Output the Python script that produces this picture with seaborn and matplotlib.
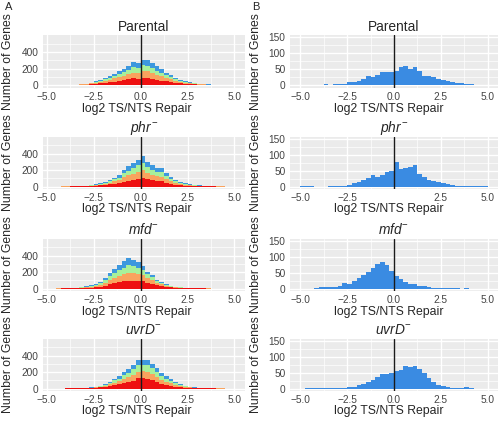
import numpy as np
import pandas as pd
import matplotlib
matplotlib.use('Agg')
import matplotlib.pyplot as plt
import seaborn as sns

# ---- data (counts) ----
strains = ['Parental', 'phr', 'mfd', 'uvrD']
titles = ['Parental', r'$phr^{-}$', r'$mfd^{-}$', r'$uvrD^{-}$']

# bins of 0.25 from -5 to 5 (both columns)
edges = np.linspace(-5.0, 5.0, 41)
centers = (edges[:-1] + edges[1:]) / 2

# panel A: stacked histograms
layers = ['Q4', 'Q3', 'Q2', 'Q1']          # top -> bottom in the stack
layer_colors = ['#3D98DE', '#A8F09A', '#F9A35E', '#EE1111']

parental_q1 = [0, 1, 1, 1, 2, 2, 3, 5, 7, 11, 16, 21, 27, 34, 42, 50, 60, 70, 80, 78,
               90, 85, 75, 63, 55, 45, 37, 28, 21, 16, 12, 9, 7, 5, 3, 3, 2, 1, 1, 0]
parental_q2 = [0, 0, 0, 1, 1, 1, 2, 3, 5, 9, 14, 19, 25, 32, 38, 46, 55, 62, 70, 66,
               82, 80, 70, 60, 50, 40, 32, 24, 17, 13, 10, 7, 5, 3, 2, 1, 1, 1, 0, 0]
parental_q3 = [0, 0, 0, 0, 0, 1, 1, 1, 2, 5, 9, 12, 18, 24, 30, 37, 45, 53, 63, 60,
               70, 72, 63, 53, 45, 35, 28, 21, 15, 11, 8, 5, 4, 3, 2, 1, 1, 0, 0, 0]
parental_q4 = [0, 0, 0, 0, 0, 0, 0, 1, 2, 3, 6, 10, 15, 20, 25, 32, 40, 50, 62, 58,
               63, 63, 57, 49, 40, 30, 23, 17, 12, 8, 5, 4, 2, 1, 1, 1, 0, 0, 0, 0]

phr_q1 = [1, 1, 1, 1, 1, 2, 3, 4, 5, 7, 10, 14, 19, 26, 33, 42, 60, 72, 80, 95,
          108, 88, 75, 66, 64, 46, 35, 25, 18, 13, 10, 7, 5, 4, 3, 2, 1, 1, 1, 1]
phr_q2 = [0, 0, 0, 1, 1, 1, 2, 2, 4, 6, 8, 11, 16, 22, 29, 36, 55, 65, 74, 84,
          92, 76, 67, 59, 58, 41, 31, 22, 16, 11, 8, 5, 4, 3, 2, 1, 1, 1, 0, 0]
phr_q3 = [0, 0, 0, 0, 0, 1, 1, 1, 2, 3, 5, 8, 12, 18, 24, 31, 48, 57, 66, 77,
          88, 71, 62, 55, 54, 38, 29, 20, 14, 10, 7, 5, 3, 2, 1, 1, 1, 0, 0, 0]
phr_q4 = [0, 0, 0, 0, 0, 0, 0, 1, 1, 2, 3, 5, 8, 14, 19, 26, 42, 51, 60, 69,
          82, 65, 56, 50, 49, 35, 25, 18, 12, 8, 5, 3, 2, 1, 1, 1, 0, 0, 0, 0]

mfd_q1 = [0, 1, 1, 2, 2, 3, 5, 7, 10, 13, 17, 25, 37, 52, 65, 78, 88, 97, 96, 95,
          88, 70, 58, 42, 30, 21, 15, 11, 8, 5, 4, 3, 2, 2, 1, 1, 1, 0, 0, 0]
mfd_q2 = [0, 0, 1, 1, 2, 2, 4, 5, 8, 11, 15, 23, 35, 50, 62, 75, 85, 94, 90, 84,
          75, 56, 44, 31, 21, 14, 10, 7, 4, 3, 2, 2, 1, 1, 1, 0, 0, 0, 0, 0]
mfd_q3 = [0, 0, 0, 0, 1, 1, 2, 4, 6, 9, 13, 20, 31, 46, 58, 71, 81, 90, 85, 76,
          62, 45, 34, 22, 15, 9, 6, 4, 3, 2, 1, 1, 1, 0, 0, 0, 0, 0, 0, 0]
mfd_q4 = [0, 0, 0, 0, 0, 1, 1, 2, 4, 7, 10, 17, 27, 42, 55, 66, 76, 84, 79, 65,
          50, 34, 24, 15, 9, 6, 4, 2, 1, 1, 1, 0, 0, 0, 0, 0, 0, 0, 0, 0]

uvrd_q1 = [0, 1, 1, 1, 2, 2, 3, 4, 5, 7, 10, 14, 20, 30, 40, 50, 65, 80, 95, 125,
           130, 120, 100, 80, 60, 46, 35, 24, 17, 11, 8, 6, 4, 3, 2, 2, 1, 1, 1, 0]
uvrd_q2 = [0, 0, 0, 0, 0, 1, 1, 1, 2, 4, 6, 10, 15, 23, 32, 38, 50, 60, 73, 80,
           80, 80, 72, 60, 46, 37, 28, 20, 14, 9, 6, 4, 2, 1, 1, 1, 1, 1, 0, 0]
uvrd_q3 = [0, 0, 0, 0, 0, 0, 0, 1, 1, 2, 4, 7, 12, 18, 27, 34, 44, 54, 67, 80,
           80, 80, 72, 58, 46, 37, 28, 20, 14, 9, 5, 3, 2, 1, 1, 0, 0, 0, 0, 0]
uvrd_q4 = [0, 0, 0, 0, 0, 0, 0, 0, 1, 1, 2, 4, 8, 14, 21, 28, 36, 46, 55, 60,
           60, 60, 56, 47, 38, 30, 24, 16, 10, 6, 3, 1, 1, 1, 0, 0, 0, 0, 0, 0]

stacked = {
    'Parental': [parental_q4, parental_q3, parental_q2, parental_q1],
    'phr': [phr_q4, phr_q3, phr_q2, phr_q1],
    'mfd': [mfd_q4, mfd_q3, mfd_q2, mfd_q1],
    'uvrD': [uvrd_q4, uvrd_q3, uvrd_q2, uvrd_q1],
}

# panel B: single histograms
b_counts = {
    'Parental': [0, 0, 0, 0, 1, 2, 1, 2, 3, 5, 10, 10, 12, 18, 30, 26, 32, 40, 40, 40,
                 45, 58, 60, 50, 58, 45, 30, 28, 25, 20, 15, 12, 10, 8, 7, 5, 2, 0, 0, 0],
    'phr': [3, 3, 2, 0, 0, 0, 1, 2, 2, 3, 5, 12, 15, 20, 28, 38, 30, 35, 45, 50,
            78, 55, 58, 62, 68, 40, 30, 22, 18, 15, 10, 7, 5, 3, 2, 1, 1, 1, 1, 2],
    'mfd': [0, 0, 0, 1, 4, 5, 6, 6, 7, 19, 14, 23, 32, 43, 53, 66, 77, 85, 74, 56,
            40, 30, 21, 16, 13, 7, 7, 5, 3, 3, 2, 2, 2, 1, 0, 1, 0, 0, 0, 0],
    'uvrD': [0, 1, 1, 1, 2, 2, 1, 1, 1, 2, 4, 6, 10, 15, 20, 28, 35, 45, 47, 50,
             55, 60, 72, 68, 72, 62, 48, 32, 22, 12, 8, 6, 3, 2, 1, 4, 1, 0, 0, 0],
}
b_color = '#3A8BE2'

xticks = [-5.0, -2.5, 0.0, 2.5, 5.0]
xticklabels = ['\u22125.0', '\u22122.5', '0.0', '2.5', '5.0']

# ---- style (ggplot-like) ----
sns.set_theme(style='darkgrid')
plt.rcParams['font.family'] = ['Liberation Sans', 'DejaVu Sans']
plt.rcParams['mathtext.fontset'] = 'custom'
plt.rcParams['mathtext.it'] = 'Liberation Sans:italic'
plt.rcParams['mathtext.rm'] = 'Liberation Sans'
plt.rcParams['axes.facecolor'] = '#EBEBEB'
plt.rcParams['grid.color'] = 'white'

W, H = 501, 421
fig = plt.figure(figsize=(W / 100, H / 100), dpi=100)
fig.patch.set_facecolor('white')

row_tops = [35, 136.5, 238.5, 338.5]
panel_h = 52.5
xlabel_gap = [21.5, 20.5, 21, 20]   # px from panel bottom to x-label centre
col_x = [(43, 245), (290, 498)]
xlabel_cx = [137, 389]


def make_ax(col, row):
    x0, x1 = col_x[col]
    top = row_tops[row]
    return fig.add_axes([x0 / W, 1 - (top + panel_h) / H, (x1 - x0) / W, panel_h / H])


def style_ax(ax, col, row, ymajor, yminor, xlim, ylim, hide_zero=False):
    ax.set_xlim(*xlim)
    ax.set_ylim(*ylim)
    ax.set_xticks(xticks)
    labels = list(xticklabels)
    if hide_zero:
        labels[2] = ''
    ax.set_xticklabels(labels)
    ax.set_xticks([-3.75, -1.25, 1.25, 3.75], minor=True)
    ax.set_yticks(ymajor)
    ax.set_yticks(yminor, minor=True)
    ax.grid(which='major', color='white', lw=1.0)
    ax.grid(which='minor', color='white', lw=0.5)
    ax.set_axisbelow(True)
    for sp in ax.spines.values():
        sp.set_visible(False)
    ax.tick_params(which='major', length=2.2, width=0.6, color='#333333',
                   labelsize=7.3, labelcolor='#444444', pad=1.0)
    ax.tick_params(which='minor', length=0)
    x0, x1 = col_x[col]
    ax.set_xlabel('log2 TS/NTS Repair', fontsize=8.8, va='center')
    ax.xaxis.set_label_coords((xlabel_cx[col] - x0) / (x1 - x0),
                              -xlabel_gap[row] / panel_h)
    ax.set_ylabel('')
    ax.set_title(titles[row], fontsize=9.9, pad=3)
    ax.axvline(0, color='#1A1A1A', lw=1.0)
    fig.text((8 if col == 0 else 256) / W, 1 - (row_tops[row] + panel_h / 2) / H,
             'Number of Genes', rotation=90, ha='center', va='center', fontsize=8.8)


for r, s in enumerate(strains):
    # left column: stacked histogram
    ax = make_ax(0, r)
    parts = []
    for name, vals in zip(layers, stacked[s]):
        parts.append(pd.DataFrame({'x': centers, 'n': vals, 'grp': name}))
    df = pd.concat(parts, ignore_index=True)
    sns.histplot(data=df, x='x', weights='n', hue='grp', hue_order=layers,
                 multiple='stack', bins=list(edges), palette=layer_colors,
                 alpha=1, linewidth=0, legend=False, ax=ax)
    style_ax(ax, 0, r, [0, 200, 400], [100, 300, 500], (-5.19, 5.56), (-29, 606))

    # right column: single histogram
    ax = make_ax(1, r)
    bdf = pd.DataFrame({'x': centers, 'n': b_counts[s]})
    sns.histplot(data=bdf, x='x', weights='n', bins=list(edges), color=b_color,
                 alpha=1, linewidth=0, ax=ax)
    style_ax(ax, 1, r, [0, 50, 100, 150], [25, 75, 125], (-5.55, 5.55), (-7.5, 157.5),
             hide_zero=(s == 'phr'))

fig.text(9 / W, 1 - 7 / H, 'A', ha='center', va='center', fontsize=8)
fig.text(256 / W, 1 - 7 / H, 'B', ha='center', va='center', fontsize=8)

fig.savefig('out.png', dpi=100)
